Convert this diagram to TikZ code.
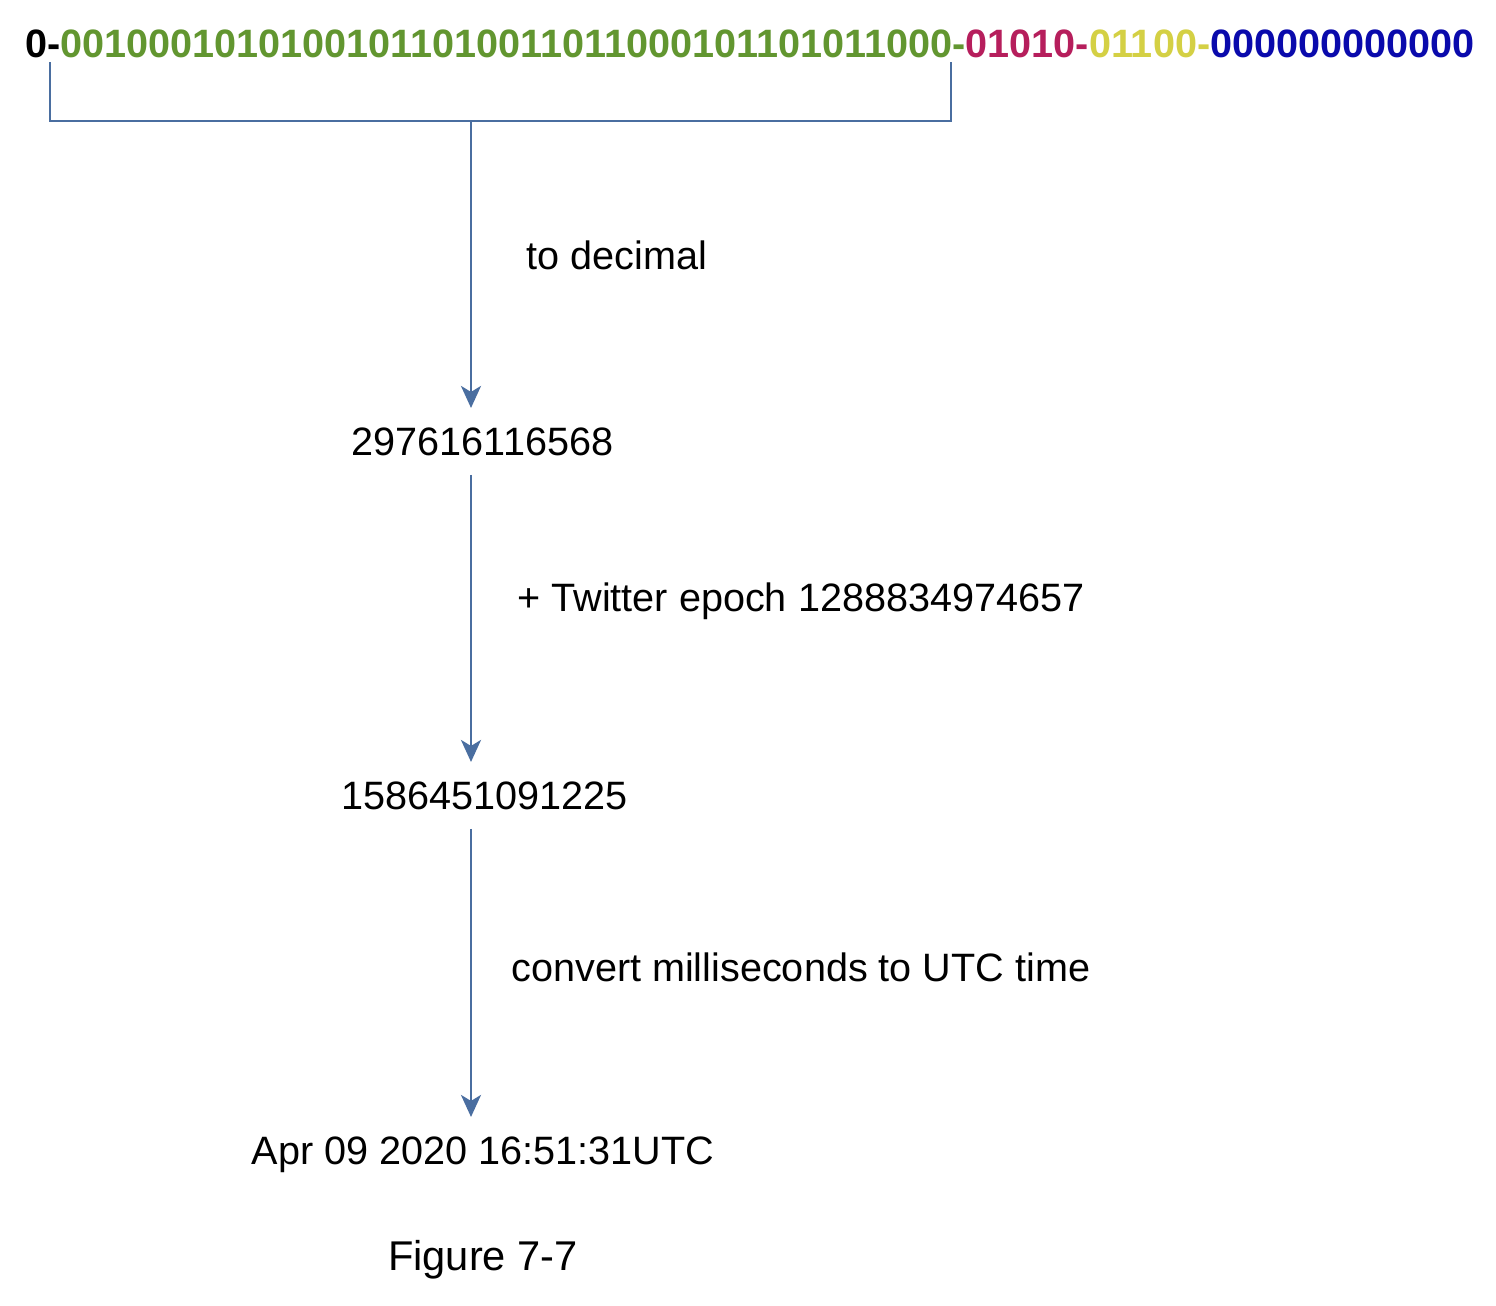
\documentclass[tikz,border=0pt]{standalone}
\usepackage{fontspec}
\setmainfont{Liberation Sans}
\usetikzlibrary{arrows.meta}
\definecolor{bitgreen}{RGB}{98,150,48}
\definecolor{bitred}{RGB}{182,30,92}
\definecolor{bityellow}{RGB}{212,208,68}
\definecolor{bitblue}{RGB}{10,10,172}
\definecolor{linkblue}{RGB}{74,110,160}
\tikzset{
  bits/.style={anchor=base west, inner sep=0pt, font=\fontsize{19.8pt}{23pt}\selectfont\bfseries},
  value/.style={anchor=base, inner xsep=0pt, inner ysep=9.5pt, font=\fontsize{19.8pt}{23pt}\selectfont},
  steplabel/.style={anchor=base west, inner sep=0pt, font=\fontsize{19.8pt}{23pt}\selectfont},
  caption/.style={anchor=base, inner sep=0pt, font=\fontsize{20.8pt}{24pt}\selectfont},
  link/.style={draw=linkblue, line width=1.3pt},
  flow/.style={link, -{Stealth[length=11pt, width=10pt, inset=3pt]}}
}
\begin{document}
\begin{tikzpicture}[x=0.5pt, y=-0.5pt]
\useasboundingbox (0,0) rectangle (1496,1306);
\fill[white] (0,0) rectangle (1496,1306);
% binary id
\node[bits] (id) at (25,57) {\textcolor{black}{0-}\textcolor{bitgreen}{00100010101001011010011011000101101011000-}\textcolor{bitred}{01010-}\textcolor{bityellow}{01100-}\textcolor{bitblue}{000000000000}};
% bracket
\coordinate (bl) at (50,62);
\coordinate (br) at (951,62);
\coordinate (bmid) at (471,121);
\draw[link] (bl) |- (bmid) -| (br);
% values
\node[value] (v1) at (482.5,455) {297616116568};
\node[value] (v2) at (484.5,809) {1586451091225};
\node[value] (v3) at (483,1164) {Apr 09 2020 16:51:31UTC};
\node[caption] (fig) at (483,1270) {Figure 7-7};
% arrows
\draw[flow] (bmid) -- (bmid |- v1.north);
\draw[flow] (bmid |- v1.south) -- (bmid |- v2.north);
\draw[flow] (bmid |- v2.south) -- (bmid |- v3.north);
% step labels
\node[steplabel] (l1) at (526,269) {to decimal};
\node[steplabel] (l2) at (517,611) {+ Twitter epoch 1288834974657};
\node[steplabel] (l3) at (511,981) {convert milliseconds to UTC time};
\end{tikzpicture}
\end{document}
